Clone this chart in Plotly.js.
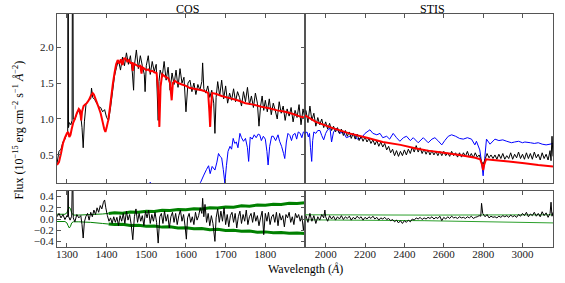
<!DOCTYPE html>
<html>
<head>
<meta charset="utf-8">
<script src="https://cdn.plot.ly/plotly-3.0.1.min.js"></script>
<style>html,body{margin:0;padding:0;background:#fff;}#chart{width:565px;height:283px;}</style>
</head>
<body>
<div id="chart"></div>
<script>
// ---------- DATA (wavelength in Å, flux in 1e-15 erg cm^-2 s^-1 Å^-1) ----------
const cosTickVals = [1300, 1400, 1500, 1600, 1700, 1800];
const stisTickVals = [2000, 2200, 2400, 2600, 2800, 3000];
const fluxTickVals = [0.5, 1.0, 1.5, 2.0];
const residTickVals = [-0.4, -0.2, 0.0, 0.2, 0.4];
const panelTitles = ["COS", "STIS"];

// observed COS spectrum [wavelength, flux]
const cosObserved = [[1275,0.38],[1280,0.55],[1285,0.58],[1290,0.68],[1295,0.72],[1300,0.80],[1302,0.82],[1303,5.0],[1304,0.88],[1306,0.95],[1310,0.92],[1313,0.98],[1314.5,5.0],[1316,1.0],[1320,0.99],[1325,1.08],[1330,1.12],[1335,1.04],[1338,0.88],[1341,0.60],[1344,0.96],[1348,1.20],[1352,1.24],[1356,1.27],[1360,1.28],[1362,1.43],[1365,1.30],[1370,1.27],[1375,1.22],[1380,1.17],[1385,1.16],[1390,1.10],[1395,1.13],[1400,1.02],[1405,0.98],[1410,1.16],[1415,1.38],[1420,1.60],[1425,1.72],[1430,1.82],[1435,1.68],[1440,1.86],[1445,1.74],[1450,1.92],[1455,1.76],[1460,1.88],[1465,1.64],[1468,1.40],[1470,1.74],[1475,1.96],[1480,1.70],[1485,1.88],[1490,1.74],[1495,1.62],[1497,1.38],[1500,1.74],[1505,1.88],[1510,1.62],[1515,1.80],[1520,1.66],[1525,1.76],[1530,0.98],[1532,1.52],[1535,1.68],[1540,1.58],[1545,1.80],[1550,1.54],[1555,1.72],[1560,1.40],[1565,1.64],[1570,1.48],[1575,1.68],[1580,1.44],[1585,1.70],[1590,1.50],[1595,1.58],[1600,1.10],[1605,1.50],[1610,1.54],[1615,1.38],[1620,1.50],[1625,1.34],[1630,1.48],[1635,1.40],[1640,1.52],[1642,1.78],[1645,1.42],[1650,1.36],[1655,1.46],[1660,1.30],[1665,1.40],[1670,1.22],[1673,0.80],[1676,1.30],[1680,1.52],[1685,1.32],[1690,1.54],[1695,1.28],[1700,1.46],[1705,1.22],[1710,1.36],[1715,1.26],[1720,1.42],[1725,1.24],[1730,1.38],[1735,1.30],[1740,1.18],[1745,1.38],[1750,1.24],[1755,1.44],[1760,1.20],[1765,1.32],[1770,1.16],[1775,1.36],[1780,1.22],[1784,0.90],[1788,1.18],[1792,1.32],[1796,1.12],[1800,1.26],[1805,1.10],[1810,1.28],[1815,1.06],[1820,1.22],[1825,1.12],[1830,1.00],[1835,1.24],[1840,1.08],[1845,1.18],[1850,0.98],[1855,1.14],[1860,1.04],[1865,1.16],[1870,0.96],[1875,1.12],[1880,1.02],[1885,1.20],[1890,0.92],[1895,1.14],[1900,1.00]];

// model spectrum over COS range
const cosModel = [[1275,0.36],[1280,0.40],[1285,0.52],[1290,0.66],[1295,0.74],[1300,0.80],[1303,0.82],[1306,0.75],[1309,0.78],[1312,0.86],[1316,0.95],[1320,1.00],[1325,1.08],[1330,1.14],[1333,1.12],[1336,0.98],[1338,1.10],[1342,1.18],[1346,1.20],[1350,1.22],[1355,1.26],[1360,1.32],[1365,1.36],[1368,1.34],[1372,1.28],[1376,1.22],[1380,1.16],[1385,1.08],[1390,0.96],[1394,0.86],[1397,0.82],[1400,0.88],[1404,0.98],[1408,1.14],[1412,1.32],[1416,1.50],[1420,1.64],[1424,1.76],[1428,1.82],[1432,1.77],[1436,1.83],[1440,1.75],[1444,1.84],[1448,1.84],[1452,1.80],[1456,1.82],[1460,1.78],[1464,1.78],[1466,1.67],[1468,1.77],[1475,1.75],[1480,1.73],[1485,1.74],[1488,1.63],[1490,1.72],[1495,1.70],[1500,1.68],[1505,1.69],[1510,1.66],[1515,1.67],[1520,1.65],[1526,1.64],[1530,1.40],[1533,0.89],[1536,1.45],[1540,1.62],[1545,1.60],[1550,1.58],[1555,1.57],[1560,1.50],[1564,1.26],[1567,1.50],[1572,1.53],[1580,1.50],[1590,1.48],[1600,1.46],[1610,1.43],[1620,1.42],[1630,1.41],[1640,1.40],[1650,1.38],[1656,1.36],[1659,1.10],[1661,0.89],[1663,1.15],[1666,1.36],[1675,1.35],[1690,1.32],[1710,1.29],[1730,1.26],[1750,1.22],[1770,1.20],[1790,1.17],[1810,1.15],[1830,1.12],[1850,1.10],[1870,1.07],[1890,1.03],[1900,1.02]];

// comparison spectrum (blue) over COS range
const cosComparison = [[1490,0.0],[1500,0.06],[1510,0.12],[1520,0.06],[1530,0.0],[1620,0.05],[1630,0.08],[1637,0.12],[1645,0.22],[1652,0.30],[1657,0.35],[1661,0.24],[1666,0.34],[1673,0.29],[1678,0.40],[1682,0.52],[1686,0.48],[1690,0.46],[1694,0.30],[1698,0.11],[1702,0.35],[1706,0.55],[1711,0.62],[1715,0.58],[1719,0.73],[1723,0.66],[1727,0.68],[1731,0.60],[1736,0.80],[1740,0.74],[1745,0.69],[1750,0.73],[1755,0.60],[1758,0.41],[1762,0.75],[1767,0.72],[1772,0.78],[1777,0.74],[1782,0.79],[1786,0.78],[1790,0.70],[1795,0.76],[1800,0.72],[1804,0.55],[1807,0.36],[1811,0.62],[1816,0.76],[1820,0.76],[1826,0.70],[1832,0.78],[1836,0.69],[1841,0.62],[1846,0.52],[1849,0.45],[1853,0.68],[1857,0.80],[1862,0.77],[1866,0.70],[1870,0.78],[1875,0.80],[1879,0.72],[1883,0.82],[1888,0.80],[1892,0.74],[1896,0.82],[1900,0.80]];

// observed STIS spectrum
const stisObserved = [[1900,1.12],[1910,0.95],[1920,1.18],[1930,0.98],[1940,1.08],[1950,0.90],[1960,1.02],[1970,0.92],[1980,1.00],[1990,0.88],[2000,0.96],[2010,0.86],[2020,0.94],[2030,0.84],[2040,0.90],[2050,0.82],[2060,0.88],[2070,0.80],[2080,0.86],[2090,0.77],[2100,0.84],[2110,0.76],[2120,0.82],[2130,0.73],[2140,0.80],[2150,0.72],[2160,0.79],[2170,0.70],[2180,0.76],[2190,0.69],[2200,0.75],[2210,0.68],[2220,0.73],[2230,0.66],[2240,0.71],[2250,0.64],[2260,0.70],[2270,0.62],[2280,0.68],[2290,0.61],[2300,0.66],[2310,0.57],[2320,0.62],[2330,0.53],[2340,0.58],[2350,0.49],[2360,0.56],[2370,0.48],[2380,0.55],[2390,0.49],[2400,0.57],[2410,0.50],[2420,0.58],[2430,0.52],[2440,0.61],[2450,0.54],[2460,0.63],[2470,0.54],[2480,0.60],[2490,0.52],[2500,0.58],[2510,0.51],[2520,0.57],[2530,0.50],[2540,0.56],[2550,0.50],[2560,0.55],[2570,0.49],[2580,0.55],[2590,0.49],[2600,0.55],[2610,0.49],[2620,0.53],[2630,0.48],[2640,0.55],[2650,0.49],[2660,0.53],[2670,0.47],[2680,0.53],[2690,0.47],[2700,0.53],[2710,0.48],[2720,0.55],[2730,0.47],[2740,0.52],[2750,0.46],[2760,0.53],[2770,0.47],[2780,0.50],[2790,0.42],[2800,0.37],[2810,0.44],[2820,0.52],[2830,0.46],[2840,0.50],[2850,0.45],[2860,0.50],[2870,0.44],[2880,0.51],[2890,0.45],[2900,0.52],[2910,0.44],[2920,0.49],[2930,0.45],[2940,0.53],[2950,0.44],[2960,0.51],[2970,0.46],[2980,0.54],[2990,0.45],[3000,0.51],[3010,0.44],[3020,0.53],[3030,0.45],[3040,0.52],[3050,0.44],[3060,0.54],[3070,0.46],[3080,0.51],[3090,0.43],[3100,0.53],[3110,0.45],[3120,0.51],[3130,0.43],[3140,0.56],[3145,0.42],[3150,0.76],[3155,0.48]];

// model spectrum over STIS range
const stisModel = [[1895,1.05],[1950,0.96],[2040,0.87],[2120,0.80],[2210,0.74],[2290,0.68],[2380,0.64],[2460,0.59],[2520,0.56],[2600,0.53],[2680,0.50],[2760,0.46],[2785,0.44],[2795,0.36],[2800,0.29],[2805,0.36],[2815,0.44],[2850,0.43],[2930,0.41],[3010,0.385],[3080,0.36],[3155,0.34]];

// comparison spectrum (blue) over STIS range
const stisComparison = [[1895,0.80],[1905,0.82],[1912,0.75],[1918,0.80],[1923,0.60],[1929,0.41],[1934,0.70],[1940,0.82],[1950,0.80],[1960,0.84],[1971,0.84],[1980,0.77],[1990,0.71],[2000,0.80],[2010,0.85],[2022,0.87],[2030,0.68],[2040,0.82],[2056,0.87],[2070,0.80],[2090,0.82],[2105,0.74],[2123,0.76],[2140,0.80],[2160,0.72],[2183,0.74],[2200,0.80],[2225,0.85],[2240,0.80],[2260,0.78],[2276,0.80],[2290,0.74],[2310,0.76],[2325,0.72],[2343,0.80],[2360,0.74],[2377,0.69],[2395,0.74],[2411,0.76],[2430,0.70],[2445,0.74],[2470,0.67],[2496,0.74],[2521,0.67],[2540,0.72],[2555,0.74],[2570,0.70],[2590,0.64],[2605,0.70],[2623,0.76],[2640,0.78],[2660,0.76],[2680,0.73],[2699,0.72],[2720,0.74],[2741,0.72],[2758,0.64],[2766,0.69],[2783,0.57],[2792,0.40],[2800,0.21],[2808,0.45],[2817,0.72],[2835,0.65],[2860,0.72],[2880,0.70],[2900,0.71],[2920,0.69],[2944,0.67],[2960,0.68],[2980,0.69],[3000,0.67],[3012,0.68],[3040,0.67],[3060,0.66],[3080,0.67],[3100,0.65],[3120,0.64],[3140,0.65],[3155,0.66]];

// residuals, COS
const cosResidual = [[1275,0.04],[1280,0.10],[1285,0.02],[1290,0.08],[1295,-0.01],[1300,0.06],[1302,0.04],[1303,1.0],[1304,0.05],[1308,-0.02],[1312,0.05],[1314.5,1.0],[1316,0.02],[1320,-0.05],[1325,0.08],[1330,0.02],[1335,0.06],[1338,-0.10],[1341,-0.34],[1344,-0.05],[1348,0.05],[1352,0.10],[1356,-0.02],[1360,0.12],[1364,0.04],[1368,0.16],[1372,0.08],[1376,0.20],[1380,0.12],[1384,0.24],[1388,0.18],[1392,0.30],[1395,0.34],[1398,0.20],[1402,0.06],[1406,-0.04],[1410,0.02],[1414,-0.08],[1418,0.04],[1422,-0.06],[1426,0.03],[1430,-0.12],[1434,0.06],[1438,-0.04],[1442,0.10],[1446,-0.08],[1450,0.14],[1454,-0.02],[1458,0.08],[1462,-0.10],[1466,-0.37],[1470,0.04],[1474,0.18],[1478,-0.06],[1482,0.10],[1486,-0.04],[1490,0.06],[1494,-0.12],[1498,0.14],[1502,0.02],[1506,0.16],[1510,-0.08],[1514,0.08],[1518,-0.04],[1522,0.12],[1526,-0.06],[1530,-0.43],[1534,0.04],[1538,0.10],[1542,-0.08],[1546,0.14],[1550,-0.04],[1554,0.08],[1558,-0.16],[1562,0.04],[1566,0.12],[1570,-0.06],[1574,0.10],[1578,-0.10],[1582,0.06],[1586,0.16],[1590,-0.04],[1594,0.08],[1598,-0.14],[1601,-0.36],[1604,0.02],[1608,0.10],[1612,-0.06],[1616,0.04],[1620,-0.10],[1624,0.12],[1628,-0.02],[1632,0.06],[1636,0.20],[1640,0.10],[1642,0.37],[1645,0.04],[1648,0.26],[1652,-0.06],[1656,0.10],[1660,-0.12],[1664,0.06],[1668,-0.08],[1673,-0.40],[1676,0.02],[1680,0.18],[1684,-0.06],[1688,0.14],[1692,-0.04],[1696,0.20],[1700,-0.10],[1704,0.08],[1708,-0.14],[1712,0.06],[1716,0.12],[1720,-0.06],[1724,0.10],[1728,-0.16],[1732,0.04],[1736,0.14],[1740,-0.08],[1744,0.08],[1748,-0.04],[1752,0.16],[1756,-0.10],[1760,0.04],[1764,0.10],[1768,-0.06],[1772,0.12],[1776,-0.04],[1780,0.06],[1784,-0.12],[1788,0.02],[1792,0.14],[1796,-0.28],[1800,0.10],[1804,-0.04],[1808,0.12],[1812,-0.10],[1816,0.04],[1820,0.08],[1824,-0.06],[1828,0.12],[1832,-0.12],[1836,0.10],[1840,-0.02],[1844,0.06],[1848,-0.14],[1852,0.08],[1856,0.02],[1860,0.12],[1864,-0.06],[1868,0.04],[1872,-0.10],[1876,0.10],[1880,0.02],[1884,0.08],[1888,-0.04],[1892,0.06],[1896,-0.20],[1900,0.04]];

// residuals, STIS
const stisResidual = [[1900,0.06],[1910,-0.06],[1920,0.10],[1930,-0.04],[1940,0.06],[1950,-0.08],[1960,0.04],[1970,-0.02],[1980,0.08],[1990,0.02],[1996,0.16],[2000,0.04],[2010,-0.04],[2020,0.06],[2030,0.00],[2040,0.05],[2050,-0.02],[2060,0.04],[2070,0.00],[2080,0.06],[2090,-0.01],[2100,0.04],[2110,0.01],[2120,0.05],[2130,-0.02],[2140,0.03],[2150,0.00],[2160,0.05],[2170,0.01],[2180,0.04],[2190,-0.02],[2200,0.03],[2210,0.00],[2220,0.04],[2230,0.01],[2240,0.05],[2250,0.00],[2260,0.03],[2270,-0.02],[2280,0.02],[2290,0.00],[2300,0.03],[2310,-0.01],[2320,0.01],[2330,-0.03],[2340,-0.01],[2350,-0.05],[2360,-0.02],[2370,-0.07],[2380,-0.03],[2390,-0.08],[2400,-0.03],[2410,-0.06],[2420,-0.02],[2430,-0.05],[2440,0.00],[2450,-0.02],[2460,0.02],[2470,0.00],[2480,0.03],[2490,-0.01],[2500,0.02],[2510,0.00],[2520,0.03],[2530,0.01],[2540,0.04],[2550,0.00],[2560,0.03],[2570,0.01],[2580,0.05],[2590,-0.03],[2600,0.03],[2610,0.00],[2620,0.04],[2630,0.01],[2640,0.05],[2650,0.02],[2660,0.03],[2670,0.01],[2680,0.04],[2690,0.02],[2700,0.03],[2710,0.01],[2720,0.04],[2730,0.02],[2740,0.05],[2750,0.01],[2760,0.03],[2770,0.04],[2780,0.06],[2788,0.05],[2792,0.28],[2798,0.10],[2810,0.04],[2820,0.08],[2830,0.02],[2840,0.05],[2850,0.03],[2860,0.04],[2870,0.02],[2880,0.05],[2890,0.03],[2900,0.06],[2910,0.04],[2920,0.06],[2930,0.03],[2940,0.07],[2950,0.04],[2960,0.06],[2970,0.03],[2980,0.08],[2990,0.05],[3000,0.10],[3010,0.06],[3020,0.12],[3030,0.04],[3040,0.09],[3050,0.06],[3060,0.12],[3070,0.05],[3080,0.10],[3090,0.04],[3100,0.13],[3110,0.06],[3120,0.11],[3130,0.03],[3140,0.10],[3145,0.30],[3150,0.05],[3155,0.12]];

// error envelopes (green)
const cosErrUpperA = [[1275,0.085],[1295,0.085],[1300,0.11],[1303,0.17],[1306,0.21],[1309,0.18],[1312,0.11],[1316,0.07],[1330,0.07],[1360,0.08],[1390,0.09],[1405,0.10]];
const cosErrLowerA = [[1275,-0.045],[1295,-0.045],[1300,-0.07],[1303,-0.12],[1306,-0.16],[1309,-0.13],[1312,-0.07],[1316,-0.05],[1330,-0.05],[1360,-0.06],[1390,-0.08],[1405,-0.09]];
const cosErrUpperB = [[1405,0.10],[1420,0.11],[1440,0.105],[1460,0.125],[1480,0.12],[1500,0.14],[1520,0.135],[1540,0.155],[1560,0.15],[1580,0.17],[1600,0.165],[1620,0.185],[1640,0.18],[1660,0.2],[1680,0.195],[1700,0.215],[1720,0.21],[1740,0.235],[1760,0.23],[1780,0.25],[1800,0.245],[1820,0.265],[1840,0.26],[1860,0.28],[1880,0.275],[1900,0.29]];
const cosErrLowerB = [[1405,-0.09],[1420,-0.10],[1440,-0.095],[1460,-0.115],[1480,-0.11],[1500,-0.13],[1520,-0.125],[1540,-0.145],[1560,-0.14],[1580,-0.16],[1600,-0.155],[1620,-0.175],[1640,-0.17],[1660,-0.19],[1680,-0.185],[1700,-0.205],[1720,-0.2],[1740,-0.22],[1760,-0.215],[1780,-0.235],[1800,-0.23],[1820,-0.245],[1840,-0.24],[1860,-0.255],[1880,-0.25],[1900,-0.26]];
const stisErrUpper = [[1895,0.075],[2500,0.07],[3155,0.075]];
const stisErrLower = [[1895,-0.015],[2500,-0.03],[3155,-0.07]];

// ---------- PLOT ----------
const SERIF = 'Liberation Serif, Times New Roman, DejaVu Serif, serif';
const xs = a => a.map(p => p[0]);
const ys = a => a.map(p => p[1]);
function line(arr, xa, ya, color, width) {
  return {x: xs(arr), y: ys(arr), xaxis: xa, yaxis: ya, type: 'scatter', mode: 'lines',
          line: {color: color, width: width, simplify: false}, hoverinfo: 'skip'};
}
const traces = [
  line(cosComparison, 'x3', 'y', '#0000ff', 1),
  line(cosObserved, 'x3', 'y', '#000000', 1),
  line(cosModel, 'x3', 'y', '#ff0000', 2),
  line(stisComparison, 'x4', 'y2', '#0000ff', 1),
  line(stisObserved, 'x4', 'y2', '#000000', 1),
  line(stisModel, 'x4', 'y2', '#ff0000', 2),
  line(cosErrUpperA, 'x', 'y3', '#008000', 1),
  line(cosErrLowerA, 'x', 'y3', '#008000', 1),
  line(cosErrUpperB, 'x', 'y3', '#008000', 3),
  line(cosErrLowerB, 'x', 'y3', '#008000', 3),
  line(cosResidual, 'x', 'y3', '#000000', 1),
  line(stisErrUpper, 'x2', 'y4', '#2ca02c', 1),
  line(stisErrLower, 'x2', 'y4', '#2ca02c', 1),
  line(stisResidual, 'x2', 'y4', '#000000', 1)
];

const axBase = {showline: true, linecolor: '#555', linewidth: 1, mirror: 'allticks',
  ticks: 'inside', ticklen: 4, tickcolor: '#555', showgrid: false, zeroline: false,
  tickfont: {family: SERIF, size: 11, color: '#222'}, fixedrange: true};
const topDom = [0.2747, 1], botDom = [0, 0.2403];
const cosRange = [1275, 1900], stisRange = [1895, 3155];
const fluxRange = [0.11, 2.46], residRange = [-0.5, 0.5];

const layout = {
  width: 565, height: 283,
  margin: {l: 57, r: 12, t: 14, b: 36, pad: 0},
  paper_bgcolor: '#ffffff', plot_bgcolor: '#ffffff',
  showlegend: false,
  font: {family: SERIF, size: 11, color: '#222'},
  xaxis: Object.assign({}, axBase, {domain: [0, 0.5], range: cosRange, anchor: 'y3', tickmode: 'array', tickvals: cosTickVals, ticklabelstandoff: -3}),
  xaxis2: Object.assign({}, axBase, {domain: [0.5, 1], range: stisRange, anchor: 'y4', tickmode: 'array', tickvals: stisTickVals, ticklabelstandoff: -3}),
  xaxis3: Object.assign({}, axBase, {domain: [0, 0.5], range: cosRange, anchor: 'y', tickmode: 'array', tickvals: cosTickVals, showticklabels: false}),
  xaxis4: Object.assign({}, axBase, {domain: [0.5, 1], range: stisRange, anchor: 'y2', tickmode: 'array', tickvals: stisTickVals, showticklabels: false}),
  yaxis: Object.assign({}, axBase, {domain: topDom, range: fluxRange, anchor: 'x3', tickmode: 'array', tickvals: fluxTickVals, tickformat: '.1f'}),
  yaxis2: Object.assign({}, axBase, {domain: topDom, range: fluxRange, anchor: 'x4', ticks: '', showticklabels: false, mirror: true}),
  yaxis3: Object.assign({}, axBase, {domain: botDom, range: residRange, anchor: 'x', tickmode: 'array', tickvals: residTickVals, tickformat: '.1f'}),
  yaxis4: Object.assign({}, axBase, {domain: botDom, range: residRange, anchor: 'x2', ticks: '', showticklabels: false, mirror: true}),
  annotations: [
    {text: panelTitles[0], xref: 'paper', yref: 'paper', x: 0.2641, y: 1.0215, xanchor: 'center', yanchor: 'middle', showarrow: false, font: {family: SERIF, size: 12, color: '#000'}},
    {text: panelTitles[1], xref: 'paper', yref: 'paper', x: 0.757, y: 1.0215, xanchor: 'center', yanchor: 'middle', showarrow: false, font: {family: SERIF, size: 12, color: '#000'}},
    {text: 'Wavelength (<i>Å</i>)', xref: 'paper', yref: 'paper', x: 0.5, y: -0.093, xanchor: 'center', yanchor: 'middle', showarrow: false, font: {family: SERIF, size: 12, color: '#000'}},
    {text: 'Flux (10<sup>−15</sup> erg cm<sup>−2</sup> s<sup>−1</sup> <i>Å</i><sup>−2</sup>)', xref: 'paper', yref: 'paper', x: -0.0786, y: 0.5, xanchor: 'center', yanchor: 'middle', textangle: -90, showarrow: false, font: {family: SERIF, size: 12, color: '#000'}}
  ]
};

Plotly.newPlot('chart', traces, layout, {staticPlot: true, displayModeBar: false});
</script>
</body>
</html>
